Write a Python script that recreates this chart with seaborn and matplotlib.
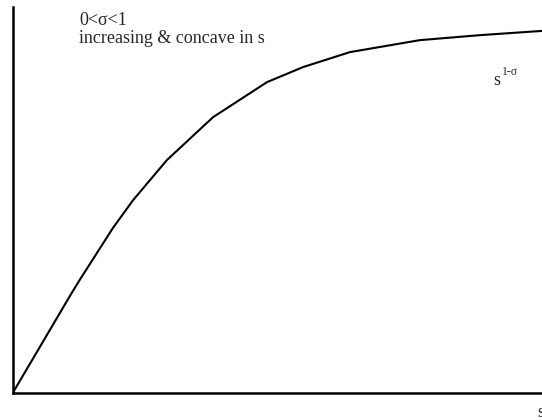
import matplotlib
matplotlib.use('Agg')
import matplotlib.pyplot as plt
import seaborn as sns
import pandas as pd

# curve s^(1-sigma) (arbitrary units, 0..10 on both axes)
s_vals = [0.0, 0.55, 1.10, 1.27, 1.89, 2.27, 2.91, 3.78, 4.80, 5.48, 6.37, 7.69, 8.83, 10.0]
u_vals = [0.0, 1.28, 2.56, 2.94, 4.27, 4.99, 6.03, 7.14, 8.05, 8.44, 8.83, 9.14, 9.27, 9.38]

sns.set_style('white')
plt.rcParams['font.family'] = ['Liberation Serif', 'DejaVu Serif']

W, H = 542, 420
fig = plt.figure(figsize=(W / 100, H / 100), dpi=100)
ax = fig.add_axes([13 / W, (H - 392.5) / H, 529 / W, 385.5 / H])

df = pd.DataFrame({'s': s_vals, 'u': u_vals})
sns.lineplot(data=df, x='s', y='u', ax=ax, color='black', linewidth=1.5)

ax.set_xlim(0, 10)
ax.set_ylim(0, 10)
ax.set_xticks([])
ax.set_yticks([])
ax.set_xlabel('')
ax.set_ylabel('')
sns.despine(ax=ax, top=True, right=True)
for side in ('left', 'bottom'):
    ax.spines[side].set_linewidth(1.8)
    ax.spines[side].set_color('black')

fs = 13
fig.text(79 / W, 1 - 25 / H, '0<σ<1', fontsize=fs, va='baseline')
fig.text(79 / W, 1 - 43 / H, 'increasing & concave in s', fontsize=fs, va='baseline')
fig.text(493 / W, 1 - 85 / H, 's', fontsize=fs, va='baseline')
fig.text(502 / W, 1 - 75 / H, '1-σ', fontsize=8.5, va='baseline')
fig.text(537 / W, 1 - 417 / H, 's', fontsize=fs, va='baseline')

fig.savefig('out.png', dpi=100)
